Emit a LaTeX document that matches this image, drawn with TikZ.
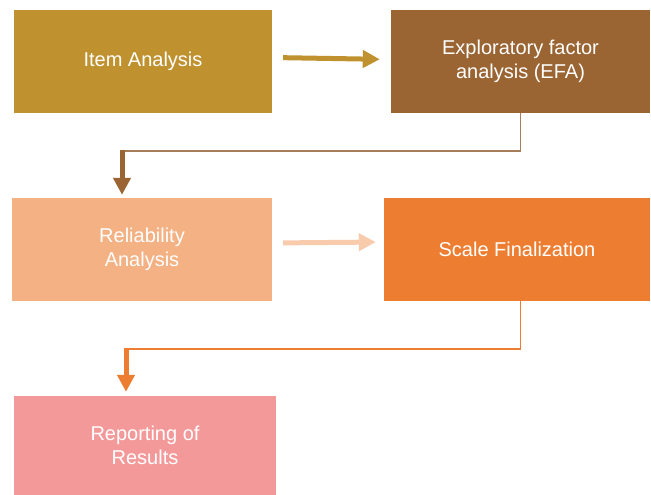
\documentclass[tikz,border=0pt]{standalone}
\usepackage{fontspec}
\setmainfont{Liberation Sans}
\usetikzlibrary{arrows.meta}
\definecolor{cgold}{HTML}{BF922F}
\definecolor{cbrown}{HTML}{9A6433}
\definecolor{cbrownl}{HTML}{A77E5A}
\definecolor{clight}{HTML}{F4B183}
\definecolor{clighter}{HTML}{F8CBAD}
\definecolor{corange}{HTML}{ED7D31}
\definecolor{cpink}{HTML}{F4999A}
\tikzset{
  box/.style={draw=none, text=white, align=center, inner sep=0pt,
    font=\fontsize{20}{23.5}\selectfont},
  bigarrow/.style={line width=5pt, -{Triangle[width=17pt,length=17pt]}},
  thinline/.style={line width=1.3pt}
}
\begin{document}
\begin{tikzpicture}[x=1pt,y=-1pt]
\useasboundingbox (0,0) rectangle (651,495);
\node[box, fill=cgold, minimum width=258pt, minimum height=103pt] (item) at (143,61.5) {Item Analysis};
\node[box, fill=cbrown, minimum width=259pt, minimum height=103pt] (efa) at (520.5,61.5) {Exploratory factor\\analysis (EFA)};
\node[box, fill=clight, minimum width=260pt, minimum height=103pt] (rel) at (142,249.5) {Reliability\\Analysis};
\node[box, fill=corange, minimum width=266pt, minimum height=103pt] (scale) at (517,249.5) {Scale Finalization};
\node[box, fill=cpink, minimum width=262pt, minimum height=99pt] (rep) at (145,445.5) {Reporting of\\Results};
% arrow 1
\draw[bigarrow, draw=cgold, fill=cgold, shorten <=11pt, shorten >=11pt]
  ([yshift=4pt]item.east) -- ([yshift=2pt]efa.west);
% elbow 1
\coordinate (k1) at (122,151);
\draw[thinline, draw=cbrownl] (efa.south) |- (k1);
\draw[bigarrow, draw=cbrown, fill=cbrown, shorten >=3pt] ([yshift=1pt]k1) -- (rel.north -| k1);
% arrow 2
\draw[bigarrow, draw=clighter, fill=clighter, shorten <=11pt, shorten >=8pt]
  ([yshift=6.5pt]rel.east) -- ([yshift=7.5pt]scale.west);
% elbow 2
\coordinate (k2) at (126,349);
\draw[thinline, draw=corange] ([xshift=3.5pt]scale.south) |- (k2);
\draw[bigarrow, draw=corange, fill=corange, shorten >=4pt] ([yshift=1pt]k2) -- (rep.north -| k2);
\end{tikzpicture}
\end{document}
